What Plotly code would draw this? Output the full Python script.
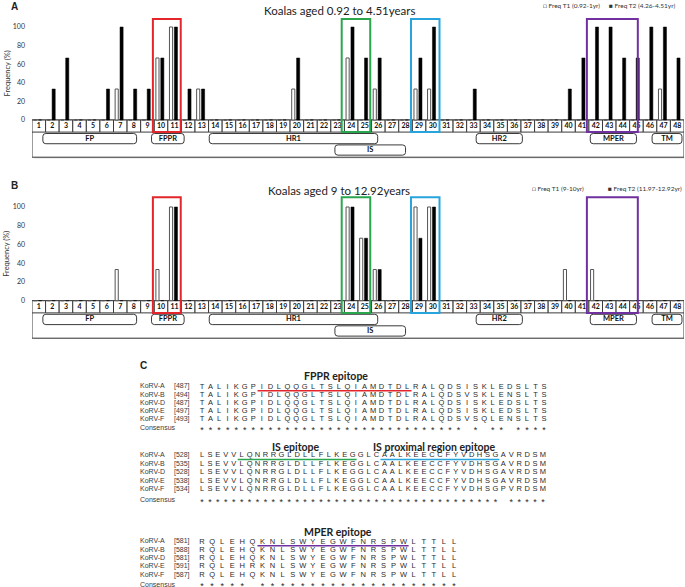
import plotly.graph_objects as go

W, H = 685, 587

# ---- data -------------------------------------------------------------
positions = list(range(1, 49))

# panel A : Koalas aged 0.92 to 4.51 years
a_t1 = [0, 0, 0, 0, 0, 0, 33.3, 0, 0, 66.7,
        100, 0, 33.3, 0, 0, 0, 0, 0, 0, 33.3,
        0, 0, 0, 66.7, 0, 33.3, 0, 0, 33.3, 33.3,
        0, 0, 0, 0, 0, 0, 0, 0, 0, 0,
        0, 0, 0, 0, 0, 0, 33.3, 0]
a_t2 = [0, 33.3, 66.7, 0, 0, 33.3, 100, 33.3, 33.3, 66.7,
        100, 33.3, 33.3, 0, 0, 0, 0, 0, 0, 66.7,
        0, 0, 0, 100, 66.7, 66.7, 0, 0, 66.7, 100,
        0, 0, 33.3, 0, 0, 0, 0, 0, 0, 33.3,
        66.7, 100, 100, 66.7, 66.7, 100, 100, 66.7]

# panel B : Koalas aged 9 to 12.92 years
b_t1 = [0, 0, 0, 0, 0, 0, 33.3, 0, 0, 33.3,
        100, 0, 0, 0, 0, 0, 0, 0, 0, 0,
        0, 0, 0, 100, 66.7, 33.3, 0, 0, 100, 100,
        0, 0, 0, 0, 0, 0, 0, 0, 0, 33.3,
        0, 33.3, 0, 0, 0, 0, 0, 0]
b_t2 = [0, 0, 0, 0, 0, 0, 0, 0, 0, 0,
        100, 0, 0, 0, 0, 0, 0, 0, 0, 0,
        0, 0, 0, 100, 66.7, 33.3, 0, 0, 66.7, 100,
        0, 0, 0, 0, 0, 0, 0, 0, 0, 0,
        0, 0, 0, 0, 0, 0, 0, 0]

region_names = ['FP', 'FPPR', 'HR1', 'IS', 'HR2', 'MPER', 'TM']
region_start = [1.3, 9.3, 13.55, 22.8, 33.2, 41.6, 46.15]
region_end = [8.2, 11.7, 25.95, 28.0, 36.6, 45.0, 48.35]
region_row = [0, 0, 0, 1, 0, 0, 0]

epitope_colors = ['#e3262b', '#2aa64f', '#27a4db', '#7030a0']
epitope_start = [9.4, 23.3, 28.4, 41.35]
epitope_end = [11.45, 25.4, 30.5, 45.1]

strains = ['KoRV-A', 'KoRV-B', 'KoRV-D', 'KoRV-E', 'KoRV-F']
fppr_pos = ['[487]', '[494]', '[487]', '[497]', '[493]']
fppr_seq = ['TALIKGPIDLQQGLTSLQIAMDTDLRALQDSISKLEDSLTS',
            'TALIKGPIDLQQGLTSLQIAMDTDLRALQDSVSKLENSLTS',
            'TALIKGPIDLQQGLTSLQIAMDTDLRALQDSISKLEDSLTS',
            'TALIKGPIDLQQGLTSLQIAMDTDLRALQDSISKLEDSLTS',
            'TALIKGPIDLQQGLTSLQIAMDTDLRALQDSVSQLENSLTS']
is_pos = ['[528]', '[535]', '[528]', '[538]', '[534]']
is_seq = ['LSEVVLQNRRGLDLLFLKEGGLCAALKEECCFYVDHSGAVRDSM',
          'LSEVVLQNRRGLDLLFLKEGGLCAALKEECCFYVDHSGAVRDSM',
          'LSEVVLQNRRGLDLLFLKEGGLCAALKEECCFYVDHSGAVRDSM',
          'LSEVVLQNRRGLDLLFLKEGGLCAALKEECCFYVDHSGAVRDSM',
          'LSEVVLQNRRGLDLLFLKEGGLCAALKEECCFYVDHSGPVRDSM']
mper_pos = ['[581]', '[588]', '[581]', '[591]', '[587]']
mper_seq = ['RQLEHQKNLSWYEGWFNRSPWLTTLL',
            'RQLEHQKNLSWYEGWFNRSPWLTTLL',
            'RQLEHQKNLSWYEGWFNRSPWLTTLL',
            'RQLEHRKNLSWYEGWFNRSPWLTTLL',
            'RQLEHQKNLSWYEGWFNRSPWLTTLL']

LINE = '#3a3a3a'
SEQ_FONT = 'Liberation Sans'
HEAD_FONT = 'Lato'


def px(x):
    return x / W


def py(y):
    return 1 - y / H


def note(text, x, y, size, family='Lato', xanchor='center', angle=0, color='#222'):
    return dict(text=text, x=px(x), y=py(y), xref='paper', yref='paper',
                xanchor=xanchor, yanchor='middle', showarrow=False, textangle=angle,
                font=dict(family=family, size=size, color=color))


def rounded(x0, x1, y0, y1, rx=0.22, ry=3.0):
    return (f'M{x0 + rx},{y1} L{x1 - rx},{y1} Q{x1},{y1} {x1},{y1 - ry} '
            f'L{x1},{y0 + ry} Q{x1},{y0} {x1 - rx},{y0} L{x0 + rx},{y0} '
            f'Q{x0},{y0} {x0},{y0 + ry} L{x0},{y1 - ry} Q{x0},{y1} {x0 + rx},{y1} Z')


fig = go.Figure()
shapes = []
annotations = []


def panel(n, t1, t2, zero_px, hundred_px, box_top, title, title_y,
          legs, leg_x, leg_y, label, label_y):
    sfx = '' if n == 1 else str(n)
    xa, ya = 'x' + sfx, 'y' + sfx
    u = (zero_px - hundred_px) / 100
    dom = [py(zero_px + 41 * u), py(zero_px - 112 * u)]

    fig.add_trace(go.Bar(x=positions, y=t1, width=0.23, offset=-0.38,
                         marker=dict(color='white', line=dict(color='#555555', width=1)),
                         xaxis=xa, yaxis=ya, showlegend=False, hoverinfo='y'))
    fig.add_trace(go.Bar(x=positions, y=t2, width=0.23, offset=-0.02,
                         marker=dict(color='black', line=dict(color='black', width=0.5)),
                         xaxis=xa, yaxis=ya, showlegend=False, hoverinfo='y'))

    fig.update_layout(**{
        'xaxis' + sfx: dict(domain=[px(32), px(684)], range=[0.5, 48.5],
                            visible=False, anchor=ya),
        'yaxis' + sfx: dict(domain=dom, range=[-41, 112], anchor=xa,
                            tickvals=[0, 20, 40, 60, 80, 100], showgrid=False,
                            zeroline=False, showline=False, ticks='',
                            ticklabelstandoff=6,
                            tickfont=dict(family='Lato', size=7, color='#333')),
    })

    # shadow + outer frame, number row, region labels (under the text traces)
    shapes.append(dict(type='rect', xref=xa, yref=ya, x0=0.65, x1=48.72, y0=-42.5, y1=-1,
                       fillcolor='#c4c4c4', line=dict(width=0), layer='below'))
    shapes.append(dict(type='rect', xref=xa, yref=ya, x0=0.5, x1=48.5, y0=-40, y1=0,
                       fillcolor='white', line=dict(color=LINE, width=1), layer='below'))
    for p in positions:
        shapes.append(dict(type='rect', xref=xa, yref=ya, x0=p - 0.5, x1=p + 0.5,
                           y0=-13, y1=0, fillcolor='white',
                           line=dict(color=LINE, width=1), layer='below'))
    for s, e, r in zip(region_start, region_end, region_row):
        y1 = -14.5 - r * 12.3
        shapes.append(dict(type='path', xref=xa, yref=ya, path=rounded(s, e, y1 - 11, y1),
                           fillcolor='white', line=dict(color=LINE, width=1), layer='below'))
    for c, s, e in zip(epitope_colors, epitope_start, epitope_end):
        shapes.append(dict(type='rect', xref=xa, yref=ya, x0=s, x1=e, y0=-13, y1=box_top,
                           line=dict(color=c, width=2)))

    fig.add_trace(go.Scatter(x=positions, y=[-6.8] * len(positions),
                             text=[str(p) for p in positions], mode='text',
                             textfont=dict(family='Lato', size=7, color='#111', weight='bold'),
                             xaxis=xa, yaxis=ya, showlegend=False, hoverinfo='skip'))
    fig.add_trace(go.Scatter(x=[(s + e) / 2 for s, e in zip(region_start, region_end)],
                             y=[-20.2 - r * 12.3 for r in region_row],
                             text=region_names, mode='text',
                             textfont=dict(family='Lato', size=7.5, color='#111', weight='bold'),
                             xaxis=xa, yaxis=ya, showlegend=False, hoverinfo='skip'))

    annotations.append(note(title, 339, title_y, 11.5))
    for txt, lx in zip(legs, leg_x):
        annotations.append(note(txt, lx, leg_y, 6.5, xanchor='left', color='#333'))
    annotations.append(note('<b>' + label + '</b>', 14, label_y, 10, family='Liberation Sans'))
    annotations.append(note('Frequency (%)', 7, zero_px - 50 * u, 7.5, angle=-90, color='#333'))


panel(1, a_t1, a_t2, 120, 27, 108.6, 'Koalas aged 0.92 to 4.51years', 10,
      ['□ Freq T1 (0.92-1yr)', '■ Freq T2 (4.26-4.51yr)'], [541, 607], 5, 'A', 6)
panel(2, b_t1, b_t2, 300.7, 207, 110.3, 'Koalas aged 9 to 12.92years', 190,
      ['□ Freq T1 (9-10yr)', '■ Freq T2 (11.97-12.92yr)'], [530, 606], 188, 'B', 185)

# ---- panel C : alignment ----------------------------------------------
fig.update_layout(
    xaxis3=dict(domain=[0, 1], range=[0, W], visible=False, anchor='y3'),
    yaxis3=dict(domain=[0, py(352)], range=[H, 352], visible=False, anchor='x3'),
)

blocks = [
    # seqs, start labels, first row y, row step, consensus y, char step, headers, underlines
    (fppr_seq, fppr_pos, 386.7, 8.1, 428.5, 8.55,
     [('FPPR epitope', 336, 376)], [(7, 24, epitope_colors[0])]),
    (is_seq, is_pos, 455.5, 8.5, 500.5, 7.93,
     [('IS epitope', 296, 446.5), ('IS proximal region epitope', 434, 446.5)],
     [(5, 19, epitope_colors[1]), (23, 37, epitope_colors[2])]),
    (mper_seq, mper_pos, 541.7, 8.3, 585, 10.08,
     [('MPER epitope', 338, 532)], [(6, 20, epitope_colors[3])]),
]

x0 = 202
for seqs, starts, r0, rstep, cy, cstep, heads, lines in blocks:
    xs, ys, tx = [], [], []
    for i, s in enumerate(seqs):
        for j, ch in enumerate(s):
            xs.append(x0 + j * cstep)
            ys.append(r0 + i * rstep)
            tx.append(ch)
    fig.add_trace(go.Scatter(x=xs, y=ys, text=tx, mode='text',
                             textfont=dict(family=SEQ_FONT, size=7.5, color='#2a2a2a'),
                             xaxis='x3', yaxis='y3', showlegend=False, hoverinfo='skip'))
    cons = ['*' if len(set(col)) == 1 else '' for col in zip(*seqs)]
    fig.add_trace(go.Scatter(x=[x0 + j * cstep for j in range(len(cons))],
                             y=[cy + 2] * len(cons), text=cons, mode='text',
                             textfont=dict(family=SEQ_FONT, size=9, color='#2a2a2a'),
                             xaxis='x3', yaxis='y3', showlegend=False, hoverinfo='skip'))
    rows_y = [r0 + i * rstep for i in range(len(seqs))]
    fig.add_trace(go.Scatter(x=[140] * (len(strains) + 1), y=rows_y + [cy],
                             text=strains + ['Consensus'], mode='text',
                             textposition='middle right',
                             textfont=dict(family=SEQ_FONT, size=7, color='#3a3a3a'),
                             xaxis='x3', yaxis='y3', showlegend=False, hoverinfo='skip'))
    fig.add_trace(go.Scatter(x=[174] * len(starts), y=rows_y, text=starts, mode='text',
                             textposition='middle right',
                             textfont=dict(family=SEQ_FONT, size=7, color='#3a3a3a'),
                             xaxis='x3', yaxis='y3', showlegend=False, hoverinfo='skip'))
    for txt, hx, hy in heads:
        annotations.append(note('<b>' + txt + '</b>', hx, hy, 10.5, family=HEAD_FONT))
    for a, b, c in lines:
        shapes.append(dict(type='line', xref='x3', yref='y3',
                           x0=x0 + a * cstep - cstep / 2, x1=x0 + b * cstep + cstep / 2,
                           y0=r0 + 4, y1=r0 + 4, line=dict(color=c, width=1.5)))

annotations.append(note('<b>C</b>', 143, 365, 10, family='Liberation Sans'))

fig.update_layout(
    width=W, height=H,
    margin=dict(l=0, r=0, t=0, b=0),
    paper_bgcolor='white', plot_bgcolor='rgba(0,0,0,0)',
    barmode='overlay',
    shapes=shapes, annotations=annotations,
    showlegend=False,
)

# the page's default 8px body margin would push the figure off the window
fig.write_html('out.html', config={'displayModeBar': False},
               post_script="document.body.style.margin = '0';")
